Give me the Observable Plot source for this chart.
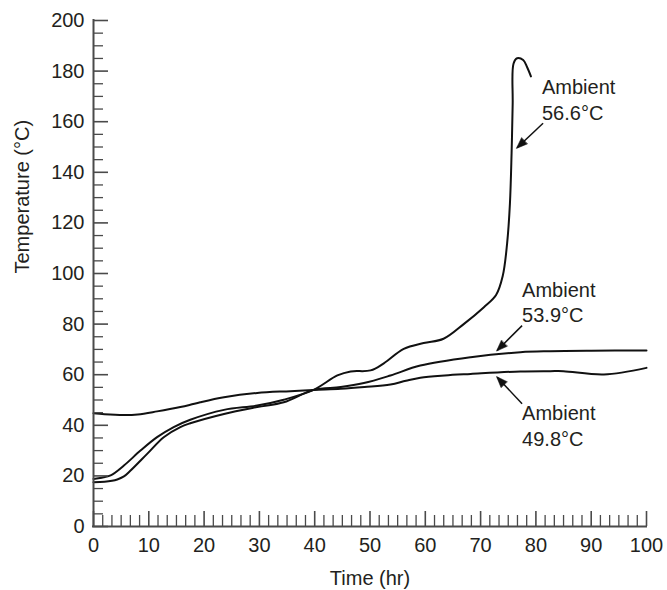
<!DOCTYPE html>
<html>
<head>
<meta charset="utf-8">
<script src="https://cdn.jsdelivr.net/npm/d3@7"></script>
<script src="https://cdn.jsdelivr.net/npm/@observablehq/plot@0.6"></script>
<style>
  html, body { margin: 0; padding: 0; background: #fff; }
  #chart { width: 667px; height: 590px; }
</style>
</head>
<body>
<div id="chart"></div>
<script>
// ---- Data ----
// Ambient 56.6 °C (thermal runaway)
const time566 = [0, 1.5, 3.1, 5.5, 8.5, 11.5, 14.5, 17.5, 23.6, 29.6, 34.4, 39.8, 44.1, 46.5, 50.1, 52.5, 56.1, 59.7, 63.3, 67, 70.6, 72.8, 74.0, 74.8, 75.3, 75.6, 75.8, 75.95, 76.6, 77.7, 78.4, 79.1];
const temp566 = [18.8, 19.3, 20.2, 24.1, 30, 35.3, 39.3, 42.2, 46.1, 47.8, 50.1, 54, 59.7, 61.3, 61.7, 64.5, 70.2, 72.5, 74.2, 80.1, 86.7, 91.5, 99, 112, 127.5, 147.3, 167, 182.9, 185.1, 184.4, 181.6, 177.9];

// Ambient 53.9 °C
const time539 = [0, 2, 4.3, 5.5, 6.7, 9.7, 12.7, 15.7, 17.5, 23.6, 29.6, 34.4, 39.8, 44.7, 48.9, 53.7, 59.1, 68.2, 77.2, 82.6, 90, 100];
const temp539 = [17.5, 17.7, 18.6, 19.8, 22.1, 28.7, 35.3, 39.3, 40.8, 44.5, 47.2, 49.1, 54, 55.1, 56.7, 59.7, 63.6, 66.9, 68.9, 69.3, 69.5, 69.6];

// Ambient 49.8 °C
const time498 = [0, 2, 5.5, 8, 11.5, 15.7, 17.5, 19.3, 23.6, 29.6, 35.6, 39.8, 44.7, 49, 53.7, 56.5, 59.1, 63.5, 68.2, 77.2, 82.6, 85, 92.3, 100];
const temp498 = [44.8, 44.4, 44.1, 44.3, 45.5, 47.2, 48.1, 49.1, 51.1, 52.8, 53.5, 54.0, 54.4, 55.1, 56.1, 57.6, 58.8, 59.7, 60.3, 61.3, 61.4, 61.4, 60.1, 62.7];

// Axis ticks
const xTickLabels = [0, 10, 20, 30, 40, 50, 60, 70, 80, 90, 100];
const yTickLabels = [0, 20, 40, 60, 80, 100, 120, 140, 160, 180, 200];
const xMinorStep = 10 / 6;
const yMinorStep = 5;

// Annotations
const annoLabels = ["Ambient\n56.6°C", "Ambient\n53.9°C", "Ambient\n49.8°C"];
const annoTextX = [81.1, 77.5, 77.5];
const annoTextY = [160.7, 80.7, 32.0];
const arrowFromX = [81.3, 77.5, 77.5];
const arrowFromY = [159.4, 79.4, 48.5];
const arrowToX = [76.6, 73, 73];
const arrowToY = [149.7, 69.6, 59];

const xAxisTitle = "Time (hr)";
const yAxisTitle = "Temperature (°C)";

// ---- Build tables ----
const zip = (ts, vs) => ts.map((t, i) => ({t, T: vs[i]}));
const s566 = zip(time566, temp566);
const s539 = zip(time539, temp539);
const s498 = zip(time498, temp498);

const xMinor = d3.range(0, 61).map(i => i * xMinorStep).filter((v, i) => i % 6 !== 0);
const yMinor = d3.range(0, 201, yMinorStep).filter(v => v % 20 !== 0);

const annos = annoLabels.map((label, i) => ({
  label, tx: annoTextX[i], ty: annoTextY[i],
  x1: arrowFromX[i], y1: arrowFromY[i], x2: arrowToX[i], y2: arrowToY[i]
}));

// ---- Styles ----
const W = 667, H = 590;
const mL = 93, mR = 21, mT = 20, mB = 64;
const frameW = W - mL - mR, frameH = H - mT - mB;
const axisColor = "#4a4a4a";
const textColor = "#231f20";
const lineColor = "#111";
const fs = 20;

const chart = Plot.plot({
  width: W,
  height: H,
  marginLeft: mL, marginRight: mR, marginTop: mT, marginBottom: mB,
  x: {domain: [0, 100], axis: null},
  y: {domain: [0, 200], axis: null},
  style: {fontFamily: "'Liberation Sans', Arial, Helvetica, sans-serif", background: "#fff"},
  marks: [
    // curves
    Plot.line(s498, {x: "t", y: "T", curve: "catmull-rom", stroke: lineColor, strokeWidth: 2}),
    Plot.line(s539, {x: "t", y: "T", curve: "catmull-rom", stroke: lineColor, strokeWidth: 2}),
    Plot.line(s566, {x: "t", y: "T", curve: "catmull-rom", stroke: lineColor, strokeWidth: 2}),

    // inward ticks
    Plot.ruleX(xTickLabels, {x: d => d, stroke: axisColor, strokeWidth: 1.6, insetTop: frameH - 15}),
    Plot.ruleX(xMinor, {x: d => d, stroke: axisColor, strokeWidth: 1.3, insetTop: frameH - 11}),
    Plot.ruleY(yTickLabels, {y: d => d, stroke: axisColor, strokeWidth: 1.6, insetRight: frameW - 15}),
    Plot.ruleY(yMinor, {y: d => d, stroke: axisColor, strokeWidth: 1.3, insetRight: frameW - 10}),

    // axis lines
    Plot.ruleY([0], {y: d => d, x1: () => 0, x2: () => 100, stroke: axisColor, strokeWidth: 2, strokeLinecap: "square"}),
    Plot.ruleX([0], {x: d => d, y1: () => 0, y2: () => 200, stroke: axisColor, strokeWidth: 2, strokeLinecap: "square"}),

    // tick labels
    Plot.text(xTickLabels, {x: d => d, y: () => 0, dy: 19, text: d => String(d), fontSize: fs, fill: textColor, lineAnchor: "middle"}),
    Plot.text(yTickLabels, {x: () => 0, y: d => d, dx: -9, text: d => String(d), fontSize: fs, fill: textColor, textAnchor: "end", lineAnchor: "middle"}),

    // axis titles
    Plot.text([xAxisTitle], {frameAnchor: "bottom", dy: 52, text: d => d, fontSize: fs, fill: textColor, lineAnchor: "middle"}),
    Plot.text([yAxisTitle], {frameAnchor: "left", dx: -71, rotate: -90, text: d => d, fontSize: fs, fill: textColor, lineAnchor: "middle"}),

    // annotations
    Plot.text(annos, {x: "tx", y: "ty", text: "label", textAnchor: "start", lineAnchor: "bottom", lineHeight: 1.29, fontSize: fs, fill: textColor}),
    Plot.link(annos, {x1: "x1", y1: "y1", x2: "x2", y2: "y2", stroke: lineColor, strokeWidth: 1.5, markerEnd: "arrow"})
  ]
});

// make the arrow heads solid triangles
chart.querySelectorAll("marker").forEach(m => {
  m.setAttribute("viewBox", "-12 -6 14 12");
  m.setAttribute("markerUnits", "userSpaceOnUse");
  m.setAttribute("markerWidth", "14");
  m.setAttribute("markerHeight", "12");
  m.setAttribute("overflow", "visible");
  m.setAttribute("fill", lineColor);
  m.setAttribute("stroke", lineColor);
  m.setAttribute("stroke-width", "0.5");
  const p = m.querySelector("path");
  if (p) p.setAttribute("d", "M-10,-4.2L1,0L-10,4.2Z");
});

document.getElementById("chart").appendChild(chart);
</script>
</body>
</html>
